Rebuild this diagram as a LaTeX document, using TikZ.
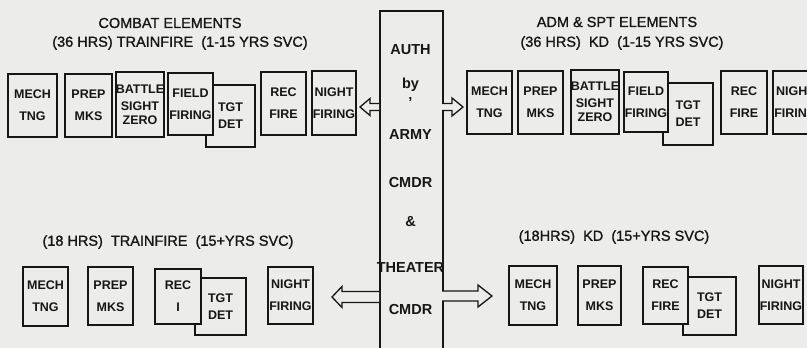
\documentclass[tikz,border=0pt]{standalone}
\usepackage{fontspec}
\setmainfont{Liberation Sans}
\newfontfamily\titlefont[FakeBold=1.2]{Liberation Sans}
\usetikzlibrary{calc}
\definecolor{bg}{HTML}{ECECEA}
\definecolor{ink}{HTML}{161616}
\newcommand{\harrow}[5]{%
  \draw[arrowline] let \p1=(#1), \p2=(#2), \n1={sign(\x2-\x1)} in
    (\x1,\y1+#3) -- (\x2-\n1*#5,\y1+#3) -- (\x2-\n1*#5,\y1+#4) -- (\x2,\y1)
    -- (\x2-\n1*#5,\y1-#4) -- (\x2-\n1*#5,\y1-#3) -- (\x1,\y1-#3);}
\tikzset{
  elbox/.style={draw=ink, line width=1.5pt, fill=bg, inner sep=0pt, text=ink,
    font=\fontsize{12.5}{14}\selectfont\bfseries, align=center,
    minimum width=#1},
  title/.style={text=ink, font=\titlefont\fontsize{14.5}{16}\selectfont, inner sep=0pt},
  cword/.style={text=ink, font=\fontsize{14.5}{16}\selectfont\bfseries, inner sep=0pt},
  arrowline/.style={draw=ink, line width=1.3pt, fill=bg, line join=miter},
}
\begin{document}
\begin{tikzpicture}[x=1pt,y=-1pt]
\useasboundingbox (0,0) rectangle (807,348);
\clip (0,0) rectangle (807,348);
\fill[bg] (0,0) rectangle (807,348);

% central box
\node[draw=ink, line width=1.5pt, fill=bg, anchor=north west, minimum width=63pt, minimum height=360pt, inner sep=0pt] (auth) at (379,10) {};
\node[cword] (w1) at (410.5,50) {AUTH};
\node[cword] (w2) at (410.5,85) {by};
\node[cword] (w3) at (410.5,103) {'};
\node[cword] (w4) at (410.5,135) {ARMY};
\node[cword] (w5) at (410.5,183) {CMDR};
\node[cword] (w6) at (410.5,222) {\&};
\node[cword] (w7) at (410.5,268) {THEATER};
\node[cword] (w8) at (410.5,310) {CMDR};

% arrow end points
\coordinate (ulA) at (379,107); \coordinate (ulT) at (360,107);
\coordinate (urA) at (442,107); \coordinate (urT) at (463,107);
\coordinate (llA) at (379,297); \coordinate (llT) at (332,297);
\coordinate (lrA) at (442,296); \coordinate (lrT) at (492,296);
\harrow{ulA}{ulT}{3.5pt}{8.5pt}{10pt}
\harrow{urA}{urT}{3.5pt}{9pt}{11pt}
\harrow{llA}{llT}{5.5pt}{10.5pt}{10pt}
\harrow{lrA}{lrT}{5pt}{11pt}{14pt}

% top left: combat elements
\node[title] (t1) at (170,23) {COMBAT ELEMENTS};
\node[title] (t2) at (180,43) {(36 HRS) TRAINFIRE \ (1-15 YRS SVC)};
\node[elbox=49pt, minimum height=63pt] (c1) at (32.5,105.5) {MECH\\[8pt]TNG};
\node[elbox=47pt, minimum height=63pt] (c2) at (88.5,105.5) {PREP\\[8pt]MKS};
\node[elbox=46pt, minimum height=65pt] (c3) at (140,104.5) {BATTLE\\[3pt]SIGHT\\ZERO};
\node[elbox=49pt, minimum height=62pt] (c5) at (230.5,116) {TGT\\[3pt]DET};
\node[elbox=45pt, minimum height=62pt] (c4) at (190.5,104) {FIELD\\[8pt]FIRING};
\node[elbox=45pt, minimum height=63pt] (c6) at (283.5,103.5) {REC\\[8pt]FIRE};
\node[elbox=44pt, minimum height=64pt] (c7) at (334,103) {NIGHT\\[8pt]FIRING};

% top right: adm & spt elements
\node[title] (t3) at (617,22) {ADM \& SPT ELEMENTS};
\node[title] (t4) at (622,43) {(36 HRS) \ KD \ (1-15 YRS SVC)};
\node[elbox=45pt, minimum height=63pt] (a1) at (489.5,102.5) {MECH\\[8pt]TNG};
\node[elbox=45pt, minimum height=63pt] (a2) at (540.5,102.5) {PREP\\[8pt]MKS};
\node[elbox=46pt, minimum height=64pt] (a3) at (595,102) {BATTLE\\[3pt]SIGHT\\ZERO};
\node[elbox=50pt, minimum height=62pt] (a5) at (688,114) {TGT\\[3pt]DET};
\node[elbox=44pt, minimum height=60pt] (a4) at (646,102) {FIELD\\[8pt]FIRING};
\node[elbox=46pt, minimum height=63pt] (a6) at (744,102.5) {REC\\[8pt]FIRE};
\node[elbox=45pt, minimum height=63pt] (a7) at (795.5,102.5) {NIGHT\\[8pt]FIRING};

% bottom left
\node[title] (t5) at (168,242) {(18 HRS) \ TRAINFIRE \ (15+YRS SVC)};
\node[elbox=45pt, minimum height=59pt] (b1) at (45.5,296.5) {MECH\\[8pt]TNG};
\node[elbox=45pt, minimum height=58pt] (b2) at (110.5,296) {PREP\\[8pt]MKS};
\node[elbox=51pt, minimum height=57pt] (b4) at (220.5,306.5) {TGT\\[3pt]DET};
\node[elbox=46pt, minimum height=55pt] (b3) at (178,296.5) {REC\\[8pt]I};
\node[elbox=45pt, minimum height=57pt] (b5) at (290.5,295.5) {NIGHT\\[8pt]FIRING};

% bottom right
\node[title] (t6) at (614,237) {(18HRS) \ KD \ (15+YRS SVC)};
\node[elbox=48pt, minimum height=59pt] (d1) at (533,295.5) {MECH\\[8pt]TNG};
\node[elbox=43pt, minimum height=59pt] (d2) at (599.5,295.5) {PREP\\[8pt]MKS};
\node[elbox=53pt, minimum height=58pt] (d4) at (709.5,306) {TGT\\[3pt]DET};
\node[elbox=45pt, minimum height=57pt] (d3) at (665.5,295.5) {REC\\[8pt]FIRE};
\node[elbox=44pt, minimum height=58pt] (d5) at (781,295) {NIGHT\\[8pt]FIRING};
\end{tikzpicture}
\end{document}
